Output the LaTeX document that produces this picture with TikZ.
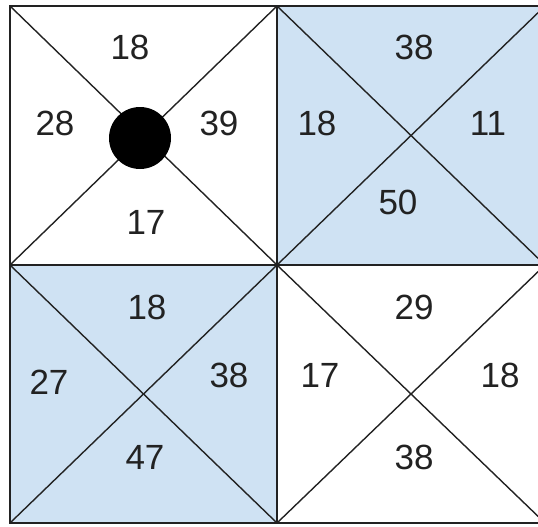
\documentclass[tikz,border=0pt]{standalone}
\usepackage{fontspec}
\setmainfont{Liberation Sans}
\usepackage{xcolor}
\definecolor{cellblue}{HTML}{CFE2F3}
\definecolor{gridline}{HTML}{222222}

\begin{document}
\begin{tikzpicture}[
  x=1pt, y=-1pt,
  cell/.style={fill=cellblue, draw=none},
  diag/.style={draw=gridline, line width=1.4pt},
  frame/.style={draw=gridline, line width=1.8pt},
  mid/.style={draw=gridline, line width=2.6pt},
  num/.style={font=\fontsize{35}{38}\selectfont, text=gridline, inner sep=0pt},
  dot/.style={circle, fill=black, minimum size=62pt, inner sep=0pt}
]
  \useasboundingbox (0,0) rectangle (538,527);
  \clip (0,0) rectangle (538,527);

  % grid corners
  \coordinate (a0) at (10,6);   \coordinate (b0) at (277,6);   \coordinate (c0) at (545,6);
  \coordinate (a1) at (10,265); \coordinate (b1) at (277,265); \coordinate (c1) at (545,265);
  \coordinate (a2) at (10,523); \coordinate (b2) at (277,523); \coordinate (c2) at (545,523);

  % shaded cells
  \path[cell] (b0) rectangle (c1);
  \path[cell] (a1) rectangle (b2);

  % diagonals
  \draw[diag] (a0) -- (b1);
  \draw[diag] (a1) -- (b0);
  \draw[diag] (b0) -- (c1);
  \draw[diag] (b1) -- (c0);
  \draw[diag] (a1) -- (b2);
  \draw[diag] (a2) -- (b1);
  \draw[diag] (b1) -- (c2);
  \draw[diag] (b2) -- (c1);

  % outline
  \draw[frame] (a0) rectangle (c2);
  \draw[mid] (b0) -- (b2);
  \draw[mid] (a1) -- (c1);

  % top left
  \node[dot] (marker) at (140,138) {};
  \node[num] (tlN) at (130,47) {18};
  \node[num] (tlW) at (55,123) {28};
  \node[num] (tlE) at (219,123) {39};
  \node[num] (tlS) at (146,222) {17};

  % top right
  \node[num] (trN) at (414,47) {38};
  \node[num] (trW) at (317,123) {18};
  \node[num] (trE) at (488,123) {11};
  \node[num] (trS) at (398,202) {50};

  % bottom left
  \node[num] (blN) at (147,307) {18};
  \node[num] (blW) at (49,382) {27};
  \node[num] (blE) at (229,375) {38};
  \node[num] (blS) at (145,457) {47};

  % bottom right
  \node[num] (brN) at (414,307) {29};
  \node[num] (brW) at (320,375) {17};
  \node[num] (brE) at (500,375) {18};
  \node[num] (brS) at (414,457) {38};
\end{tikzpicture}
\end{document}
